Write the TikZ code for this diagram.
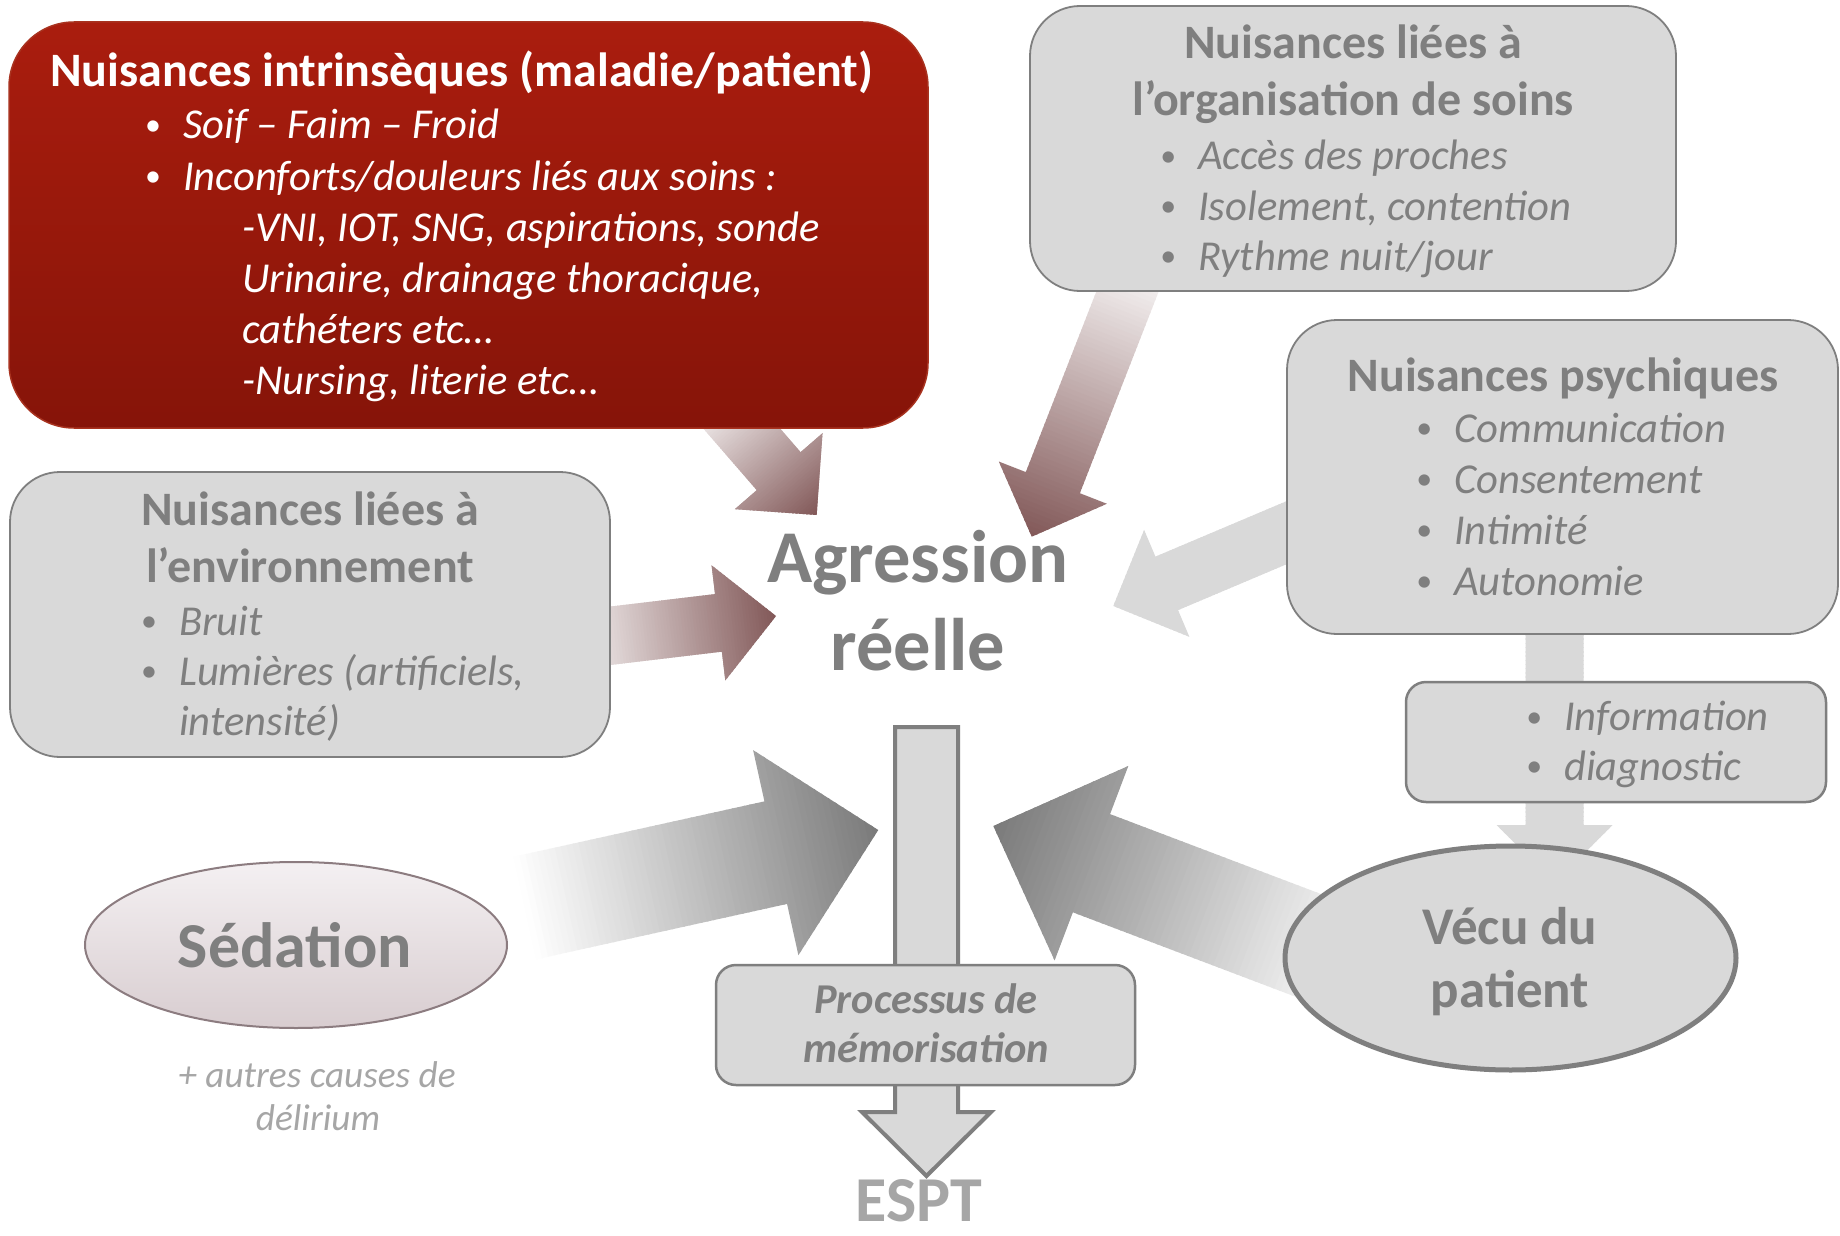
\documentclass[tikz,border=0pt]{standalone}
\usepackage{fontspec}
\usepackage{graphicx}
\setmainfont{Carlito}
\usetikzlibrary{calc,shapes.geometric}

\definecolor{tgray}{HTML}{7F7F7F}
\definecolor{boxgray}{HTML}{D9D9D9}
\definecolor{lgray}{HTML}{A6A6A6}
\definecolor{redtop}{HTML}{AA1D0E}
\definecolor{redbot}{HTML}{861409}
\definecolor{redline}{HTML}{A8321F}
\definecolor{mauve}{HTML}{825858}
\definecolor{mauvelt}{HTML}{F2EEEE}
\definecolor{envlt}{HTML}{E6DEDE}
\definecolor{darkg}{HTML}{7A7A7A}
\definecolor{sedtop}{HTML}{F4F0F2}
\definecolor{sedbot}{HTML}{D8CDD0}
\definecolor{sedline}{HTML}{8C7C80}

% gradient block arrow starting at a named coordinate
% #1 tail, #2 angle, #3 length, #4 shaft width, #5 head width, #6 head length, #7 tail colour, #8 tip colour
\newcommand\blockarrow[8]{%
  \begin{scope}[shift={(#1)},rotate=#2]
    \clip (0,-#4/2) -- (#3-#6,-#4/2) -- (#3-#6,-#5/2) -- (#3,0) -- (#3-#6,#5/2) -- (#3-#6,#4/2) -- (0,#4/2) -- cycle;
    \foreach \k in {0,...,59}{%
      \pgfmathsetmacro\baXa{#3/60*\k}%
      \pgfmathsetmacro\baXb{#3/60*(\k+1)+1.5}%
      \pgfmathsetmacro\baPc{100/60*(\k+0.5)}%
      \fill[#8!\baPc!#7] (\baXa,-#5) rectangle (\baXb,#5);
    }
  \end{scope}}

\newcommand\bl{\llap{\makebox[60pt][c]{\upshape\raisebox{0.08em}{\scalebox{0.75}{•}}}}}

\tikzset{
  graybox/.style={draw=tgray, line width=1.8pt, fill=boxgray, rounded corners=#1, inner sep=0pt},
  graybox/.default=50pt,
  ttl/.style={anchor=base, inner sep=0pt, font=\fontsize{48}{56}\selectfont\bfseries, text=tgray},
  itm/.style={anchor=base west, inner sep=0pt, font=\fontsize{42.6}{50}\selectfont\itshape, text=tgray},
  bigt/.style={anchor=base, inner sep=0pt, font=\fontsize{74.5}{88}\selectfont\bfseries, text=tgray},
  proct/.style={anchor=base, inner sep=0pt, font=\fontsize{42.5}{50}\selectfont\bfseries\itshape, text=tgray},
}

\begin{document}
\begin{tikzpicture}[x=1pt,y=-1pt]
\useasboundingbox (0,0) rectangle (1840,1236);
\fill[white] (0,0) rectangle (1840,1236);

% ---------- arrows (behind the boxes)
\coordinate (rT) at (717,400);
\coordinate (oT) at (1132,280);
\coordinate (eT) at (600,637);
\coordinate (pT) at (1300,527);
\coordinate (sT) at (525,908);
\coordinate (vT) at (1360,965);
\coordinate (iT) at (1554.5,630);

\blockarrow{rT}{-49.08}{152.2}{58}{116}{58}{mauvelt}{mauve}
\blockarrow{oT}{-111.34}{275.6}{58}{116}{58}{mauvelt}{mauve}
\blockarrow{eT}{6.80}{177.3}{58}{116}{58}{envlt}{mauve}
\blockarrow{pT}{-157.07}{202.7}{58}{116}{58}{boxgray}{boxgray}
\blockarrow{sT}{12.45}{361.8}{105}{210}{105}{white}{darkg}
\blockarrow{vT}{159.24}{392.2}{105}{208}{105}{white}{darkg}
\blockarrow{iT}{-90}{253}{58}{116}{58}{boxgray}{boxgray}

% ---------- boxes
\node[rounded corners=65pt, top color=redtop, bottom color=redbot, draw=redline, line width=1.5pt,
      minimum width=919pt, minimum height=406pt, inner sep=0pt] (intrbox) at (468.5,225) {};
\node[graybox, minimum width=646pt, minimum height=285pt] (orgbox) at (1353,148.5) {};
\node[graybox, minimum width=551pt, minimum height=314pt] (psybox) at (1562.5,477) {};
\node[graybox, minimum width=600pt, minimum height=285pt] (envbox) at (310,614.5) {};
\node[graybox=20pt, line width=2.5pt, minimum width=420pt, minimum height=120pt] (infbox) at (1616,742) {};
\node[ellipse, draw=sedline, line width=2pt, top color=sedtop, bottom color=sedbot,
      minimum width=422pt, minimum height=166pt, inner sep=0pt] (sedation) at (296,945) {};
\node[ellipse, draw=tgray, line width=5pt, fill=boxgray,
      minimum width=451pt, minimum height=224pt, inner sep=0pt] (vecu) at (1510.5,958) {};

% ---------- central arrow and memorisation box
\coordinate (ctop) at (926.5,727);
\coordinate (ctip) at (926.5,1176);
\draw[fill=boxgray, draw=tgray, line width=4pt, line join=miter]
  ($(ctop)+(-31.5,0)$) -- ($(ctop)+(31.5,0)$) -- ($(ctip)+(31.5,-64)$) -- ($(ctip)+(64.5,-64)$)
  -- (ctip) -- ($(ctip)+(-64.5,-64)$) -- ($(ctip)+(-31.5,-64)$) -- cycle;
\node[graybox=20pt, line width=2.5pt, minimum width=419pt, minimum height=120pt] (procbox) at (925.5,1025) {};

% ---------- texts
\node[ttl, anchor=base west, text=white] (intrT) at (50,87) {Nuisances intrinsèques (maladie/patient)};
\node[itm, text=white] (intr1) at (183,138.5) {\bl Soif – Faim – Froid};
\node[itm, text=white] (intr2) at (183,190) {\bl Inconforts/douleurs liés aux soins :};
\node[itm, text=white] (intr3) at (242,241.5) {-VNI, IOT, SNG, aspirations, sonde};
\node[itm, text=white] (intr4) at (242,292.5) {Urinaire, drainage thoracique,};
\node[itm, text=white] (intr5) at (242,343) {cathéters etc…};
\node[itm, text=white] (intr6) at (242,394.5) {-Nursing, literie etc…};

\node[ttl] (orgT1) at (1353,59) {Nuisances liées à};
\node[ttl] (orgT2) at (1353,116) {l’organisation de soins};
\node[itm] (org1) at (1198,169.5) {\bl Accès des proches};
\node[itm] (org2) at (1198,220) {\bl Isolement, contention};
\node[itm] (org3) at (1198,270) {\bl Rythme nuit/jour};

\node[ttl] (psyT) at (1563,391) {Nuisances psychiques};
\node[itm] (psy1) at (1454,442) {\bl Communication};
\node[itm] (psy2) at (1454,493) {\bl Consentement};
\node[itm] (psy3) at (1454,544) {\bl Intimité};
\node[itm] (psy4) at (1454,595) {\bl Autonomie};

\node[ttl] (envT1) at (310,525.5) {Nuisances liées à};
\node[ttl] (envT2) at (310,582) {l’environnement};
\node[itm] (env1) at (179,635) {\bl Bruit};
\node[itm] (env2) at (179,685) {\bl Lumières (artificiels,};
\node[itm] (env3) at (179,735) {intensité)};

\node[itm] (inf1) at (1564,730.5) {\bl Information};
\node[itm] (inf2) at (1564,780) {\bl diagnostic};

\node[bigt] (agr1) at (918,582) {Agression};
\node[bigt] (agr2) at (918,670) {réelle};

\node[proct] (proc1) at (926,1013.5) {Processus de};
\node[proct] (proc2) at (926,1062.5) {mémorisation};

\node[anchor=base, inner sep=0pt, font=\fontsize{64}{70}\selectfont\bfseries, text=lgray] (espt) at (919,1221) {ESPT};

\node[anchor=base, inner sep=0pt, font=\fontsize{64}{70}\selectfont\bfseries, text=tgray] (sedT) at (295,967) {Sédation};
\node[anchor=base, inner sep=0pt, font=\fontsize{37.3}{43}\selectfont\itshape, text=lgray] (aut1) at (317,1087) {+ autres causes de};
\node[anchor=base, inner sep=0pt, font=\fontsize{37.3}{43}\selectfont\itshape, text=lgray] (aut2) at (318,1130) {délirium};

\node[anchor=base, inner sep=0pt, font=\fontsize{53}{60}\selectfont\bfseries, text=tgray] (vec1) at (1510,944) {Vécu du};
\node[anchor=base, inner sep=0pt, font=\fontsize{53}{60}\selectfont\bfseries, text=tgray] (vec2) at (1510,1007) {patient};
\end{tikzpicture}
\end{document}
